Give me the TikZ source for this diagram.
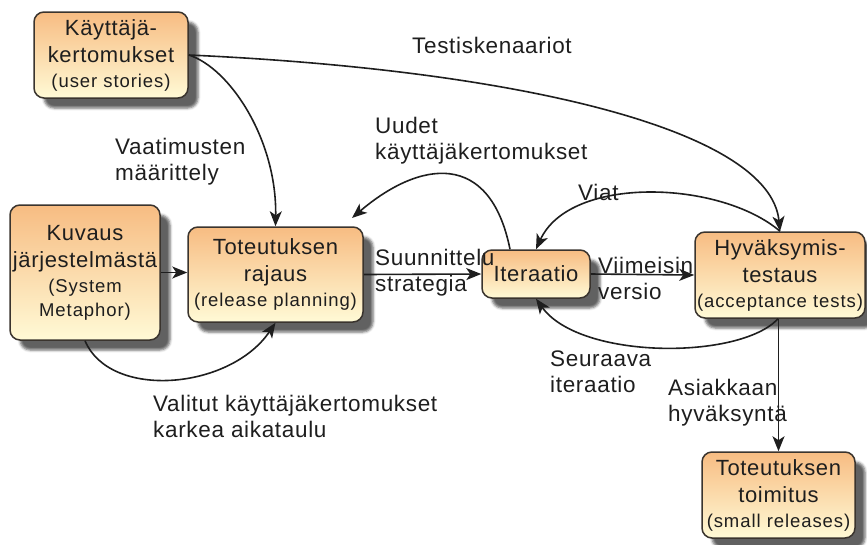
\documentclass[tikz,border=0pt]{standalone}
\usepackage{fontspec}
\setmainfont{Liberation Sans}
\newfontfamily\boxfont[LetterSpace=3]{Liberation Sans}
\newfontfamily\subfont[LetterSpace=5]{Liberation Sans}
\newfontfamily\labfont[LetterSpace=3]{Liberation Sans}
\usetikzlibrary{arrows.meta,shadows.blur}

\definecolor{boxtop}{RGB}{247,188,130}
\definecolor{boxbot}{RGB}{255,250,214}
\definecolor{boxline}{RGB}{58,52,46}
\definecolor{ink}{RGB}{30,30,30}

\tikzset{
  phase/.style={draw=boxline, line width=1.5pt, rounded corners=10pt,
    top color=boxtop, bottom color=boxbot, inner sep=0pt, align=center,
    text=ink, font=\boxfont\fontsize{22}{27}\selectfont,
    blur shadow={shadow xshift=10pt, shadow yshift=-10pt,
      shadow blur radius=2.5pt, shadow opacity=62}},
  flow/.style={draw=ink, line width=1.6pt,
    -{Stealth[length=15pt,width=12pt,inset=4pt]}},
  tag/.style={text=ink, font=\labfont\fontsize{22.5}{26}\selectfont,
    align=left, inner sep=0pt, anchor=west},
}
\newcommand\subline[1]{{\subfont\fontsize{18.5}{24}\selectfont #1}}

\begin{document}
\begin{tikzpicture}[x=1pt,y=-1pt]
  \useasboundingbox (0,0) rectangle (867,544);

  % process boxes
  \node[phase, minimum width=154pt, minimum height=86pt] (kt) at (111,55)
    {Käyttäjä-\\kertomukset\\[-2pt]\subline{(user stories)}};
  \node[phase, minimum width=150pt, minimum height=135pt] (kv) at (85,272.5)
    {Kuvaus\\järjestelmästä\\[-2pt]\subline{(System}\\[-3pt]\subline{Metaphor)}};
  \node[phase, minimum width=175pt, minimum height=95pt] (tr) at (275.5,274.5)
    {Toteutuksen\\rajaus\\[-2pt]\subline{(release planning)}};
  \node[phase, minimum width=108pt, minimum height=48pt] (it) at (536,274)
    {Iteraatio};
  \node[phase, minimum width=170pt, minimum height=86pt] (hy) at (780,275)
    {Hyväksymis-\\testaus\\[-2pt]\subline{(acceptance tests)}};
  \node[phase, minimum width=153pt, minimum height=86pt] (to) at (778.5,495)
    {Toteutuksen\\toimitus\\[-2pt]\subline{(small releases)}};

  \coordinate (newend) at (352,218);

  % connectors
  \draw[flow] (kt.east) .. controls (520,70) and (770,130) .. (hy.north);
  \draw[flow] (kt.east) .. controls (230,68) and (277,140) .. (tr.north);
  \draw[flow] (kv.east) -- (kv.east -| tr.west);
  \draw[flow] (kv.south) .. controls (110,400) and (230,390) .. (tr.south);
  \draw[flow] (tr.east) -- (it.west);
  \draw[flow] ([xshift=-26pt]it.north) .. controls (490,150) and (420,160) .. (newend);
  \draw[flow] (hy.north) .. controls (720,180) and (570,175) .. (it.north);
  \draw[flow] (it.east) -- (hy.west);
  \draw[flow] ([xshift=-2pt]hy.south) .. controls (740,360) and (580,360) .. (it.south);
  \draw[flow] (to.north |- hy.south) -- (to.north);

  % connector labels
  \node[tag] (lTest) at (412,45) {Testiskenaariot};
  \node[tag] (lVaat) at (115,162) {Vaatimusten\\määrittely};
  \node[tag] (lUud) at (375,141) {Uudet\\käyttäjäkertomukset};
  \node[tag] (lSuun) at (375,273) {Suunnittelu\\strategia};
  \node[tag] (lViat) at (578,192) {Viat};
  \node[tag] (lViim) at (598,278) {Viimeisin\\versio};
  \node[tag] (lSeur) at (550,372) {Seuraava\\iteraatio};
  \node[tag] (lAsia) at (668,403) {Asiakkaan\\hyväksyntä};
  \node[tag] (lVali) at (153,416) {Valitut käyttäjäkertomukset\\karkea aikataulu};
\end{tikzpicture}
\end{document}
